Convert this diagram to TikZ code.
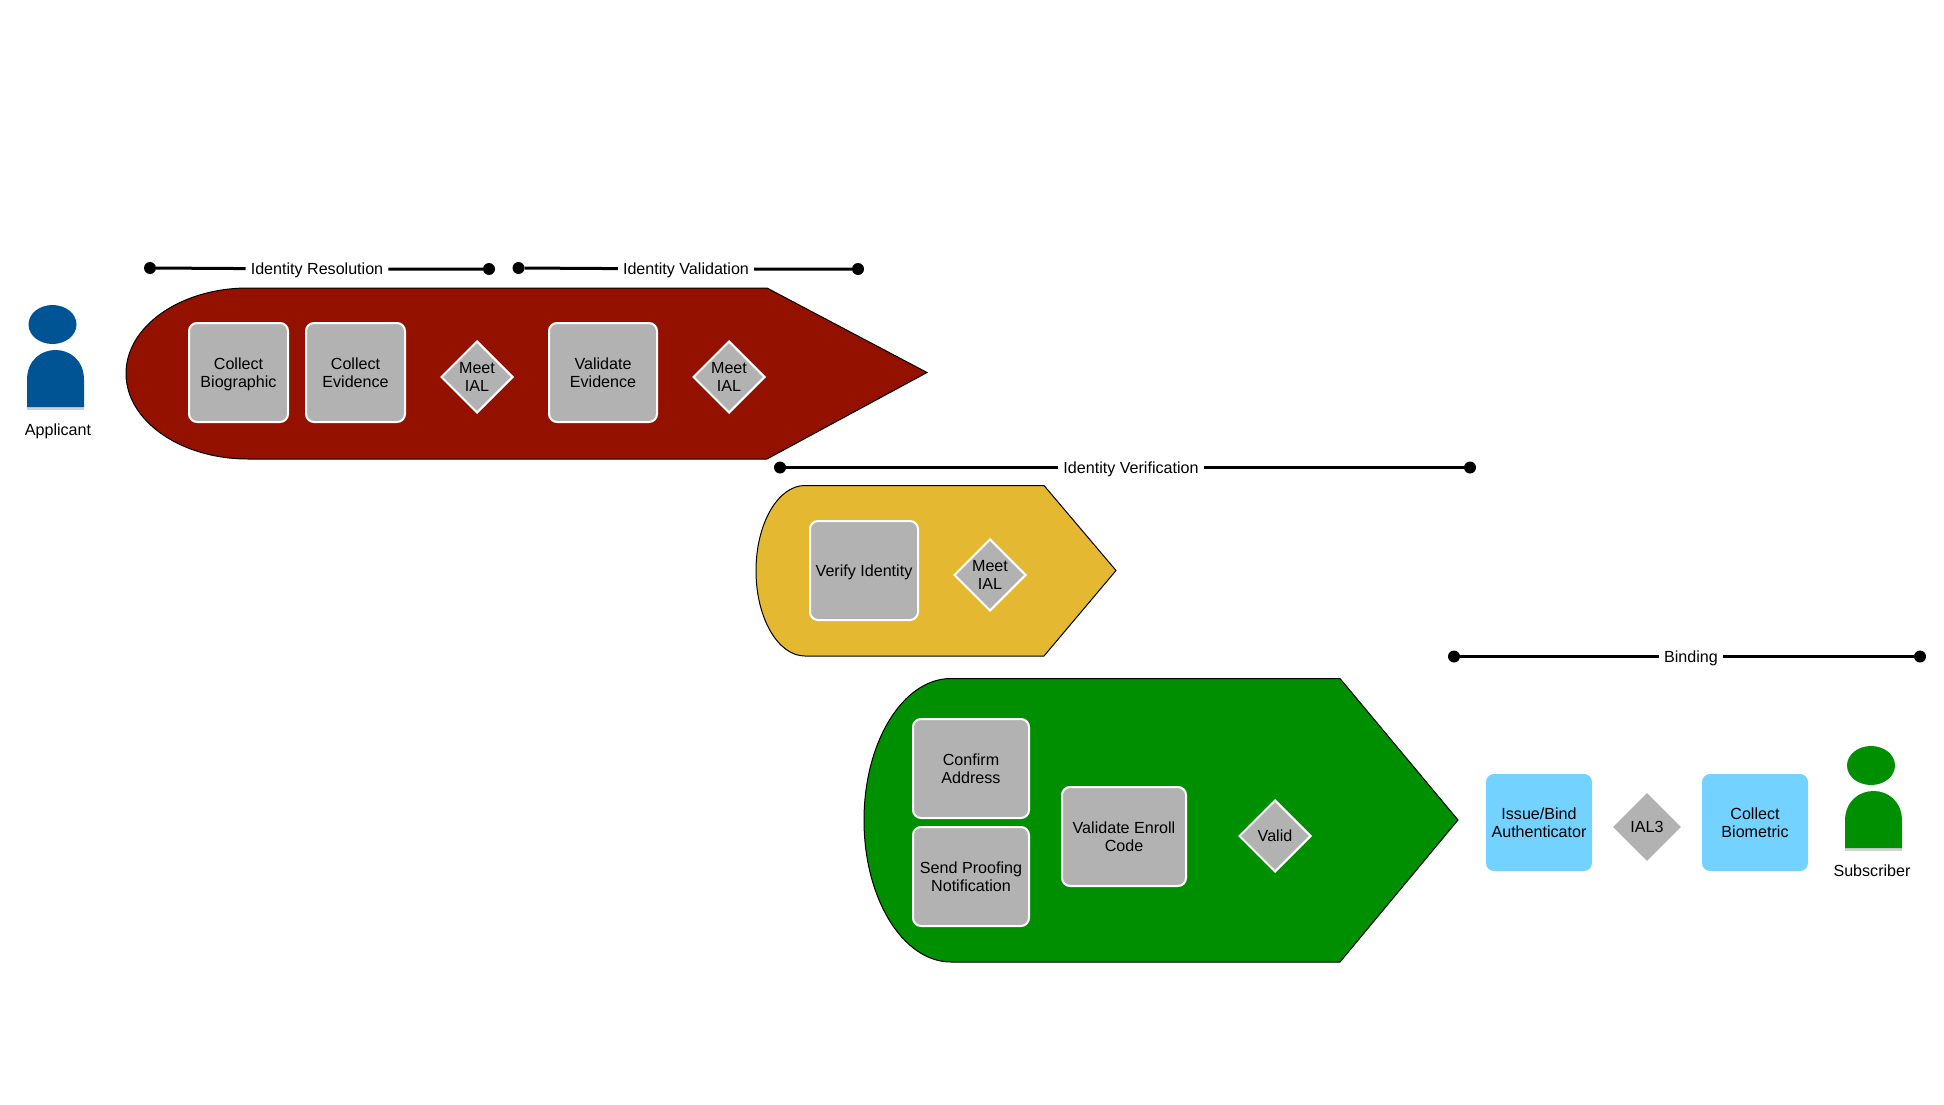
\documentclass[tikz,border=0pt]{standalone}
\usepackage{fontspec}
\setmainfont{Liberation Sans}
\usetikzlibrary{shapes.geometric}
\definecolor{redband}{HTML}{941100}
\definecolor{yellowband}{HTML}{E5B832}
\definecolor{greenband}{HTML}{008F00}
\definecolor{greybox}{HTML}{B2B2B2}
\definecolor{bluebox}{HTML}{73D2FF}
\definecolor{applicantblue}{HTML}{005493}
\tikzset{
  x=1pt,y=-1pt,
  every node/.style={font=\fontsize{16.1}{18}\selectfont,text=black,align=center,text depth=-2.5pt},
  band/.style={draw=black,line width=1pt},
  procbox/.style={rectangle,rounded corners=8pt,fill=greybox,draw=white,line width=2pt,inner sep=0pt,text depth=-5pt},
  bindbox/.style={rectangle,rounded corners=8pt,fill=bluebox,inner sep=0pt,text depth=-5pt},
  gate/.style={diamond,fill=greybox,draw=white,line width=2pt,inner sep=0pt,text depth=-5pt},
  plaingate/.style={diamond,fill=greybox,inner sep=0pt,text depth=-5pt},
  enddot/.style={circle,fill=black,inner sep=0pt,minimum size=12pt,text depth=0pt},
  span/.style={line width=3pt,black},
  spanlabel/.style={fill=white,inner sep=5pt},
  softshade/.style={fill=black!18,draw=none}
}
\begin{document}
\begin{tikzpicture}
\useasboundingbox (0,0) rectangle (1944,1105);
\fill[white] (0,0) rectangle (1944,1105);

% bands
\draw[band,fill=redband] (248,288) -- (767,288) -- (927,372.5) -- (767,459) -- (248,459)
  arc[start angle=270,end angle=90,x radius=122pt,y radius=85.5pt] -- cycle;
\draw[band,fill=yellowband] (805,485.5) -- (1044,485.5) -- (1116,570.5) -- (1044,656) -- (805,656)
  arc[start angle=270,end angle=90,x radius=49pt,y radius=85.25pt] -- cycle;
\draw[band,fill=greenband] (951,678.5) -- (1340,678.5) -- (1458,820) -- (1340,962) -- (951,962)
  arc[start angle=270,end angle=90,x radius=87pt,y radius=141.75pt] -- cycle;

% applicant
\fill[softshade] (27,407) rectangle (84,410);
\fill[applicantblue] (52.5,324.5) ellipse [x radius=24pt,y radius=19.5pt];
\fill[applicantblue] (27,407) -- (27,380) .. controls (27,340) and (84,340) .. (84,380) -- (84,407) -- cycle;
\node (applicant) at (58,430) {Applicant};

% subscriber
\fill[softshade] (1845,848) rectangle (1902,851);
\fill[greenband] (1871,765.5) ellipse [x radius=24pt,y radius=19.5pt];
\fill[greenband] (1845,848) -- (1845,821) .. controls (1845,781) and (1902,781) .. (1902,821) -- (1902,848) -- cycle;
\node (subscriber) at (1872,871) {Subscriber};

% red band contents
\node[procbox,minimum width=99pt,minimum height=99pt] (bio) at (238.5,372.5) {Collect\\Biographic};
\node[procbox,minimum width=99pt,minimum height=99pt] (evid) at (355.5,372.5) {Collect\\Evidence};
\node[gate,minimum width=72pt,minimum height=72pt] (ial1) at (477,377) {Meet\\IAL};
\node[procbox,minimum width=108pt,minimum height=99pt] (valid) at (603,372.5) {Validate\\Evidence};
\node[gate,minimum width=72pt,minimum height=72pt] (ial2) at (729,377) {Meet\\IAL};

% yellow band contents
\node[procbox,minimum width=108pt,minimum height=99pt] (verify) at (864,570.5) {Verify Identity};
\node[gate,minimum width=72pt,minimum height=72pt] (ial3) at (990,575) {Meet\\IAL};

% green band contents
\node[procbox,minimum width=116pt,minimum height=99pt] (confirm) at (971,768.5) {Confirm\\Address};
\node[procbox,minimum width=116pt,minimum height=99pt] (send) at (971,876.5) {Send Proofing\\Notification};
\node[procbox,minimum width=124pt,minimum height=99pt] (enroll) at (1124,836.5) {Validate Enroll\\Code};
\node[gate,minimum width=72pt,minimum height=72pt] (validgate) at (1275,836) {Valid};

% binding contents
\node[bindbox,minimum width=106pt,minimum height=97pt] (issue) at (1539,822.5) {Issue/Bind\\Authenticator};
\node[plaingate,minimum width=68pt,minimum height=68pt] (ialthree) at (1647,827) {IAL3};
\node[bindbox,minimum width=106pt,minimum height=97pt] (biometric) at (1755,822.5) {Collect\\Biometric};

% phase spans
\node[enddot] (resA) at (150,268) {};
\node[enddot] (resB) at (489,269) {};
\node[spanlabel] (resL) at (317,269) {Identity Resolution};
\draw[span] (resA) -- (resL) (resL) -- (resB);

\node[enddot] (valA) at (518.5,268) {};
\node[enddot] (valB) at (858,269) {};
\node[spanlabel] (valL) at (686,269) {Identity Validation};
\draw[span] (valA) -- (valL) (valL) -- (valB);

\node[enddot] (verA) at (780,467.5) {};
\node[enddot] (verB) at (1470,467.5) {};
\node[spanlabel] (verL) at (1131,467.5) {Identity Verification};
\draw[span] (verA) -- (verL) (verL) -- (verB);

\node[enddot] (binA) at (1454,656.5) {};
\node[enddot] (binB) at (1920,656.5) {};
\node[spanlabel] (binL) at (1691,656.5) {Binding};
\draw[span] (binA) -- (binL) (binL) -- (binB);
\end{tikzpicture}
\end{document}
